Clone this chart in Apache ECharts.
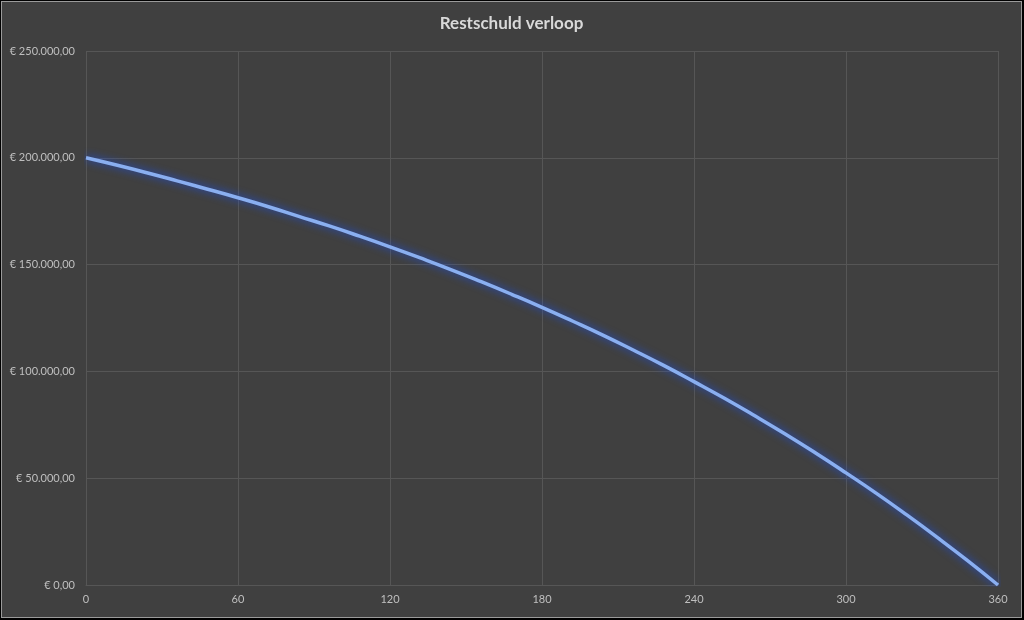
<!DOCTYPE html>
<html>
<head>
    <meta charset="utf-8">
    <title>Restschuld verloop</title>
    <script src="https://cdn.jsdelivr.net/npm/echarts@6/dist/echarts.min.js"></script>
    <style>
        * { margin: 0; padding: 0 }
        body { background: #000; width: 1024px; height: 620px; overflow: hidden }
        #main {
            position: absolute;
            left: 1px;
            top: 1px;
            width: 1019px;
            height: 615px;
            border: 1px solid #9a9a9a;
            background: #404040;
        }
    </style>
</head>
<body>
    <div id="main"></div>
    <script type="text/javascript">
        // maand -> restschuld
        var maanden = [0, 12, 24, 36, 48, 60, 72, 84, 96, 108, 120, 132, 144, 156, 168, 180,
            192, 204, 216, 228, 240, 252, 264, 276, 288, 300, 312, 324, 336, 348, 360];
        var restschuld = [200000, 196600, 193000, 189200, 185300, 181300, 177100, 172600, 168100, 163300,
            158300, 153100, 147700, 142000, 136100, 130000, 123600, 117000, 110000, 102800,
            95200, 87400, 79200, 70700, 61800, 52500, 42900, 32800, 22300, 11400, 0];

        function euro(v) {
            var parts = v.toFixed(2).split('.');
            var heel = parts[0].replace(/\B(?=(\d{3})+(?!\d))/g, '.');
            return '€ ' + heel + ',' + parts[1];
        }

        var myChart = echarts.init(document.getElementById('main'));

        var option = {
            animation: false,
            title: {
                text: 'Restschuld verloop',
                left: 'center',
                top: 8,
                textStyle: {
                    color: '#d9d9d9',
                    fontFamily: 'Lato',
                    fontWeight: 'bold',
                    fontSize: 17
                }
            },
            grid: { left: 84, right: 23, top: 49, bottom: 32 },
            xAxis: {
                type: 'value',
                min: 0,
                max: 360,
                interval: 60,
                axisLine: { show: true, lineStyle: { color: '#565656' } },
                axisTick: { show: false },
                splitLine: { show: true, lineStyle: { color: '#565656' } },
                axisLabel: { color: '#bfbfbf', fontFamily: 'Lato', fontSize: 11, margin: 9 }
            },
            yAxis: {
                type: 'value',
                min: 0,
                max: 250000,
                interval: 50000,
                axisLine: { show: false },
                axisTick: { show: false },
                splitLine: { show: true, lineStyle: { color: '#565656' } },
                axisLabel: {
                    color: '#bfbfbf', fontFamily: 'Lato', fontSize: 11, margin: 11,
                    formatter: euro
                }
            },
            series: [{
                type: 'line',
                smooth: true,
                symbol: 'none',
                data: maanden.map(function (m, i) { return [m, restschuld[i]]; }),
                lineStyle: {
                    color: '#8aaff0',
                    width: 3.5,
                    shadowColor: '#1e50e0',
                    shadowBlur: 8
                }
            }]
        };

        myChart.setOption(option);
    </script>
</body>
</html>
